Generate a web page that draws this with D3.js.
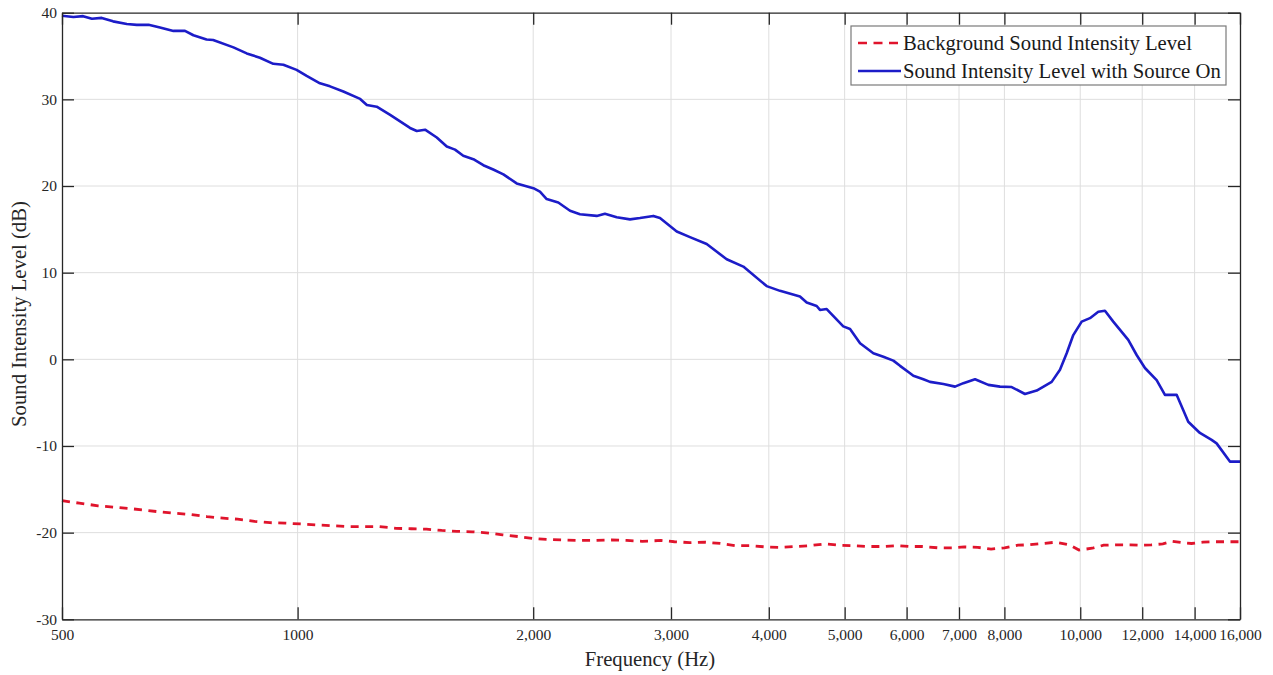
<!DOCTYPE html>
<html>
<head>
<meta charset="utf-8">
<script src="https://cdn.jsdelivr.net/npm/d3@7"></script>
<style>
  html, body { margin: 0; padding: 0; background: #ffffff; }
  svg { display: block; font-family: "Liberation Serif", "Times New Roman", serif; }
</style>
</head>
<body>
<svg id="chart" width="1273" height="675"></svg>
<script>
// Sound intensity spectra, 500 Hz – 16 kHz
const sourceFreq = [500, 517, 532, 546, 562, 581, 605, 623, 645, 667, 694, 718, 736, 765, 780, 828, 861, 895, 931, 959,
  997, 1027, 1068, 1100, 1144, 1202, 1226, 1262, 1313, 1392, 1420, 1455, 1506, 1551, 1589, 1628, 1677, 1727, 1778, 1832,
  1905, 2001, 2040, 2081, 2153, 2229, 2295, 2411, 2470, 2557, 2659, 2738, 2848, 2904, 3051, 3172, 3332, 3534, 3711, 3975,
  4134, 4384, 4472, 4605, 4650, 4743, 4980, 5080, 5232, 5440, 5603, 5770, 5885, 6061, 6120, 6303, 6428, 6685, 6919, 7090,
  7338, 7631, 7897, 8173, 8499, 8797, 9194, 9421, 9609, 9797, 10042, 10290, 10545, 10754, 11020, 11517, 11805, 12097, 12520, 12830,
  13279, 13740, 14220, 14718, 14936, 15532, 16000];
const sourceLevel = [39.65, 39.5, 39.6, 39.3, 39.4, 39.0, 38.7, 38.6, 38.6, 38.3, 37.9, 37.9, 37.4, 36.9, 36.85, 36.0, 35.3, 34.8, 34.1, 34.0,
  33.4, 32.7, 31.85, 31.5, 30.9, 30.05, 29.35, 29.15, 28.2, 26.7, 26.35, 26.5, 25.6, 24.55, 24.2, 23.5, 23.1, 22.4, 21.9, 21.35,
  20.3, 19.75, 19.35, 18.5, 18.1, 17.15, 16.75, 16.55, 16.8, 16.4, 16.15, 16.3, 16.55, 16.3, 14.75, 14.1, 13.3, 11.55, 10.7, 8.45,
  7.9, 7.25, 6.55, 6.15, 5.7, 5.8, 3.8, 3.5, 1.85, 0.7, 0.3, -0.15, -0.75, -1.6, -1.9, -2.3, -2.6, -2.85, -3.15, -2.75,
  -2.3, -2.95, -3.15, -3.2, -4.0, -3.6, -2.6, -1.2, 0.7, 2.8, 4.35, 4.75, 5.5, 5.6, 4.35, 2.25, 0.5, -1.0, -2.4, -4.1,
  -4.1, -7.2, -8.5, -9.3, -9.7, -11.8, -11.8];

const backgroundFreq = [500, 526, 556, 582, 608, 636, 666, 696, 728, 766, 797, 838, 881, 922, 964, 1009, 1055, 1109, 1161, 1214,
  1270, 1336, 1397, 1461, 1528, 1598, 1671, 1758, 1828, 1913, 2012, 2104, 2201, 2302, 2408, 2518, 2634, 2755, 2913, 3030,
  3169, 3315, 3467, 3626, 3793, 3967, 4149, 4339, 4513, 4720, 4911, 5136, 5371, 5618, 5843, 6044, 6285, 6575, 6877, 7111,
  7397, 7693, 8003, 8324, 8608, 8954, 9311, 9686, 9962, 10360, 10713, 11144, 11593, 11921, 12331, 12751, 13116, 13491, 13870, 14346,
  14835, 15345, 15873, 16000];
const backgroundLevel = [-16.3, -16.6, -16.9, -17.05, -17.2, -17.4, -17.6, -17.75, -17.9, -18.15, -18.3, -18.45, -18.7, -18.85, -18.9, -19.0, -19.1, -19.2, -19.3, -19.3,
  -19.3, -19.5, -19.55, -19.6, -19.75, -19.85, -19.9, -20.05, -20.25, -20.45, -20.7, -20.8, -20.85, -20.9, -20.9, -20.85, -20.9, -21.0, -20.9, -21.05,
  -21.15, -21.1, -21.25, -21.5, -21.5, -21.65, -21.7, -21.6, -21.5, -21.3, -21.45, -21.5, -21.6, -21.6, -21.5, -21.6, -21.6, -21.75, -21.75, -21.65,
  -21.7, -21.9, -21.75, -21.45, -21.4, -21.25, -21.1, -21.4, -22.0, -21.8, -21.45, -21.4, -21.4, -21.45, -21.4, -21.3, -21.0, -21.15, -21.25, -21.1,
  -21.05, -21.05, -21.05, -21.05];

const xTickValues = [500, 1000, 2000, 3000, 4000, 5000, 6000, 7000, 8000, 10000, 12000, 14000, 16000];
const xTickLabels = ["500", "1000", "2,000", "3,000", "4,000", "5,000", "6,000", "7,000", "8,000", "10,000", "12,000", "14,000", "16,000"];
const yTickValues = [-30, -20, -10, 0, 10, 20, 30, 40];

const seriesNames = ["Background Sound Intensity Level", "Sound Intensity Level with Source On"];

const svg = d3.select("#chart");
const plot = { left: 62, right: 1240, top: 12.7, bottom: 619.3 };
const ink = "#262626";
const blue = "#1c1cc8";
const red = "#e0142c";
const serif = "Liberation Serif, Times New Roman, serif";

const x = d3.scaleLog().domain([500, 16000]).range([plot.left, plot.right]);
const y = d3.scaleLinear().domain([-30, 40]).range([plot.bottom, plot.top]);

// grid
const grid = svg.append("g").attr("stroke", "#dedede").attr("stroke-width", 1);
grid.selectAll("line.vx").data(xTickValues.slice(1, -1)).join("line")
  .attr("x1", d => x(d)).attr("x2", d => x(d))
  .attr("y1", plot.top).attr("y2", plot.bottom);
grid.selectAll("line.hy").data(yTickValues.slice(1, -1)).join("line")
  .attr("x1", plot.left).attr("x2", plot.right)
  .attr("y1", d => y(d)).attr("y2", d => y(d));

// series
const line = d3.line().x(d => x(d[0])).y(d => y(d[1]));
const bgData = backgroundFreq.map((f, i) => [f, backgroundLevel[i]]);
const srcData = sourceFreq.map((f, i) => [f, sourceLevel[i]]);

svg.append("path").datum(bgData)
  .attr("fill", "none").attr("stroke", red).attr("stroke-width", 2.8)
  .attr("stroke-dasharray", "8,6.5").attr("d", line);
svg.append("path").datum(srcData)
  .attr("fill", "none").attr("stroke", blue).attr("stroke-width", 2.6)
  .attr("stroke-linejoin", "round").attr("d", line);

// axes (ticks point inward)
const tickLen = 12;
const fmtX = (d, i) => xTickLabels[i];
function styleAxis(g) {
  g.select(".domain").attr("stroke", ink).attr("stroke-width", 1.3);
  g.selectAll(".tick line").attr("stroke", ink).attr("stroke-width", 1.3);
  g.selectAll(".tick text").attr("fill", ink).attr("font-size", 15.5).attr("font-family", serif);
}
svg.append("g").attr("transform", `translate(0,${plot.bottom})`)
  .call(d3.axisBottom(x).tickValues(xTickValues).tickFormat(fmtX).tickSizeInner(-tickLen).tickSizeOuter(0).tickPadding(9.5))
  .call(styleAxis);
svg.append("g").attr("transform", `translate(0,${plot.top})`)
  .call(d3.axisTop(x).tickValues(xTickValues).tickFormat("").tickSizeInner(-tickLen).tickSizeOuter(0))
  .call(styleAxis);
svg.append("g").attr("transform", `translate(${plot.left},0)`)
  .call(d3.axisLeft(y).tickValues(yTickValues).tickFormat(d => String(d)).tickSizeInner(-tickLen).tickSizeOuter(0).tickPadding(5))
  .call(styleAxis);
svg.append("g").attr("transform", `translate(${plot.right},0)`)
  .call(d3.axisRight(y).tickValues(yTickValues).tickFormat("").tickSizeInner(-tickLen).tickSizeOuter(0))
  .call(styleAxis);

// axis titles
svg.append("text").attr("x", 650).attr("y", 666)
  .attr("text-anchor", "middle").attr("font-size", 20.7).attr("fill", ink)
  .text("Frequency (Hz)");
svg.append("text").attr("transform", `translate(26,${(plot.top + plot.bottom) / 2 - 2}) rotate(-90)`)
  .attr("text-anchor", "middle").attr("font-size", 20.7).attr("fill", ink)
  .text("Sound Intensity Level (dB)");

// legend
const legend = svg.append("g");
legend.append("rect").attr("x", 851).attr("y", 26).attr("width", 375).attr("height", 59)
  .attr("fill", "#ffffff").attr("stroke", "#7a7a7a").attr("stroke-width", 1.2);
const legendRows = [
  { name: seriesNames[0], color: red, dash: "9,6.5", cy: 43 },
  { name: seriesNames[1], color: blue, dash: null, cy: 71 }
];
legendRows.forEach(r => {
  legend.append("line").attr("x1", 858).attr("x2", 901).attr("y1", r.cy).attr("y2", r.cy)
    .attr("stroke", r.color).attr("stroke-width", 2.6).attr("stroke-dasharray", r.dash);
  legend.append("text").attr("x", 903).attr("y", r.cy).attr("dy", "0.34em")
    .attr("font-size", 20.7).attr("fill", "#1a1a1a").text(r.name);
});
</script>
</body>
</html>
